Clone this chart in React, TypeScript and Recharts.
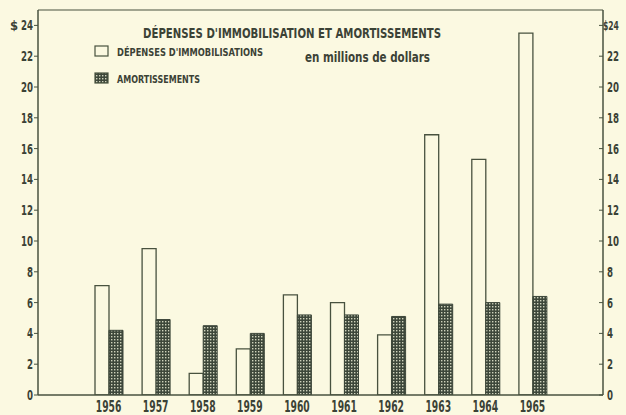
import React from "react";
import {
  BarChart,
  Bar,
  XAxis,
  YAxis,
  Legend,
  ReferenceLine,
  Customized,
} from "recharts";

const years = ["1956", "1957", "1958", "1959", "1960", "1961", "1962", "1963", "1964", "1965"];
const depenses = [7.1, 9.5, 1.4, 3.0, 6.5, 6.0, 3.9, 16.9, 15.3, 23.5];
const amortissements = [4.2, 4.9, 4.5, 4.0, 5.2, 5.2, 5.1, 5.9, 6.0, 6.4];
const yTicks = [0, 2, 4, 6, 8, 10, 12, 14, 16, 18, 20, 22, 24];

const data = years.map((y, i) => ({
  year: y,
  dep: depenses[i],
  amo: amortissements[i],
}));

const BG = "#fbf9e1";
const INK = "#48523f";
const TEXT = "#3b4236";
const FONT = "'Liberation Sans Narrow', 'DejaVu Sans Condensed', 'DejaVu Sans', sans-serif";

// squeeze text to the narrow look of the original typeface
const narrow = (s: string, px: number) => ({
  textLength: s.length * px,
  lengthAdjust: "spacingAndGlyphs" as const,
});

const LeftTick = (props: any) => {
  const { x, y, payload } = props;
  const label = String(payload.value);
  return (
    <g>
      <line x1={x - 4} x2={x} y1={y} y2={y} stroke={INK} strokeWidth={1} />
      <text x={x - 5} y={y + 5} textAnchor="end" fontFamily={FONT} fontWeight="bold" fontSize={14} fill={TEXT} {...narrow(label, 6)}>
        {label}
      </text>
      {payload.value === 24 && (
        <text x={x - 24} y={y + 5} textAnchor="middle" fontFamily={FONT} fontWeight="bold" fontSize={13} fill={TEXT}>
          $
        </text>
      )}
    </g>
  );
};

const RightTick = (props: any) => {
  const { x, y, payload } = props;
  const top = payload.value === 24;
  const label = top ? "$24" : String(payload.value);
  return (
    <g>
      <line x1={x - 4} x2={x} y1={y} y2={y} stroke={INK} strokeWidth={1} />
      <text
        x={x + (top ? 0 : 4)}
        y={y + 5}
        textAnchor="start"
        fontFamily={FONT}
        fontWeight="bold"
        fontSize={top ? 12 : 14}
        fill={TEXT}
        {...narrow(label, top ? 5.3 : 6)}
      >
        {label}
      </text>
    </g>
  );
};

const YearTick = (props: any) => {
  const { x, y, payload } = props;
  return (
    <text x={x} y={y + 15} textAnchor="middle" fontFamily={FONT} fontWeight="bold" fontSize={15} fill={TEXT} {...narrow(payload.value, 6.4)}>
      {payload.value}
    </text>
  );
};

const LegendBox = (props: any) => {
  const items = props.payload || [];
  return (
    <svg width={626} height={100} style={{ position: "absolute", left: 0, top: 0, overflow: "visible" }}>
      {items.map((it: any) => {
        const first = it.dataKey === "dep";
        const top = first ? 46 : 73;
        return (
          <g key={it.value}>
            <rect
              x={95}
              y={top}
              width={13}
              height={10}
              fill={first ? BG : "url(#hatch)"}
              stroke={INK}
              strokeWidth={1.2}
            />
            <text
              x={117}
              y={top + 9.5}
              fontFamily={FONT}
              fontWeight="bold"
              fontSize={11}
              fill={TEXT}
              textLength={first ? 146 : 83}
              lengthAdjust="spacingAndGlyphs"
            >
              {it.value}
            </text>
          </g>
        );
      })}
    </svg>
  );
};

const Titles = () => (
  <g>
    <text
      x={143}
      y={38}
      fontFamily={FONT}
      fontWeight="bold"
      fontSize={14}
      fill={TEXT}
      textLength={298}
      lengthAdjust="spacingAndGlyphs"
    >
      DÉPENSES D'IMMOBILISATION ET AMORTISSEMENTS
    </text>
    <text
      x={305}
      y={62}
      fontFamily={FONT}
      fontWeight="bold"
      fontSize={14}
      fill={TEXT}
      textLength={125}
      lengthAdjust="spacingAndGlyphs"
    >
      en millions de dollars
    </text>
  </g>
);

export default function App() {
  return (
    <div style={{ position: "absolute", left: 0, top: 0, width: 626, height: 415, background: BG }}>
      <BarChart
        width={626}
        height={415}
        data={data}
        margin={{ top: 10, right: 0, bottom: 0, left: 0 }}
        barGap={0}
        barSize={14}
      >
        <defs>
          <pattern id="hatch" width="3" height="3" patternUnits="userSpaceOnUse">
            <rect width="3" height="3" fill="#3d473a" />
            <rect width="1.4" height="1.4" fill="#cfd2bb" />
          </pattern>
        </defs>
        <XAxis
          dataKey="year"
          padding={{ left: 47, right: 47 }}
          height={20}
          tickLine={false}
          tickSize={0}
          tick={<YearTick />}
          axisLine={{ stroke: INK, strokeWidth: 1.5 }}
          interval={0}
        />
        <YAxis
          yAxisId="left"
          domain={[0, 25]}
          allowDataOverflow
          ticks={yTicks}
          width={38}
          tickLine={false}
          tickSize={0}
          tickMargin={0}
          tick={<LeftTick />}
          axisLine={{ stroke: INK, strokeWidth: 1.5 }}
          interval={0}
        />
        <YAxis
          yAxisId="right"
          orientation="right"
          domain={[0, 25]}
          allowDataOverflow
          ticks={yTicks}
          width={23}
          tickLine={false}
          tickSize={0}
          tickMargin={0}
          tick={<RightTick />}
          axisLine={{ stroke: INK, strokeWidth: 1.5 }}
          interval={0}
        />
        <ReferenceLine yAxisId="left" y={25} stroke={INK} strokeWidth={1.2} />
        <Legend
          layout="horizontal"
          verticalAlign="middle"
          align="center"
          content={<LegendBox />}
          wrapperStyle={{ position: "absolute", left: 0, top: 0, width: 626, height: 0, pointerEvents: "none" }}
        />
        <Bar
          yAxisId="left"
          dataKey="dep"
          name="DÉPENSES D'IMMOBILISATIONS"
          fill={BG}
          stroke={INK}
          strokeWidth={1.3}
          isAnimationActive={false}
        />
        <Bar
          yAxisId="right"
          dataKey="amo"
          name="AMORTISSEMENTS"
          fill="url(#hatch)"
          stroke="#3d473a"
          strokeWidth={1}
          isAnimationActive={false}
        />
        <Customized component={Titles} />
      </BarChart>
    </div>
  );
}
